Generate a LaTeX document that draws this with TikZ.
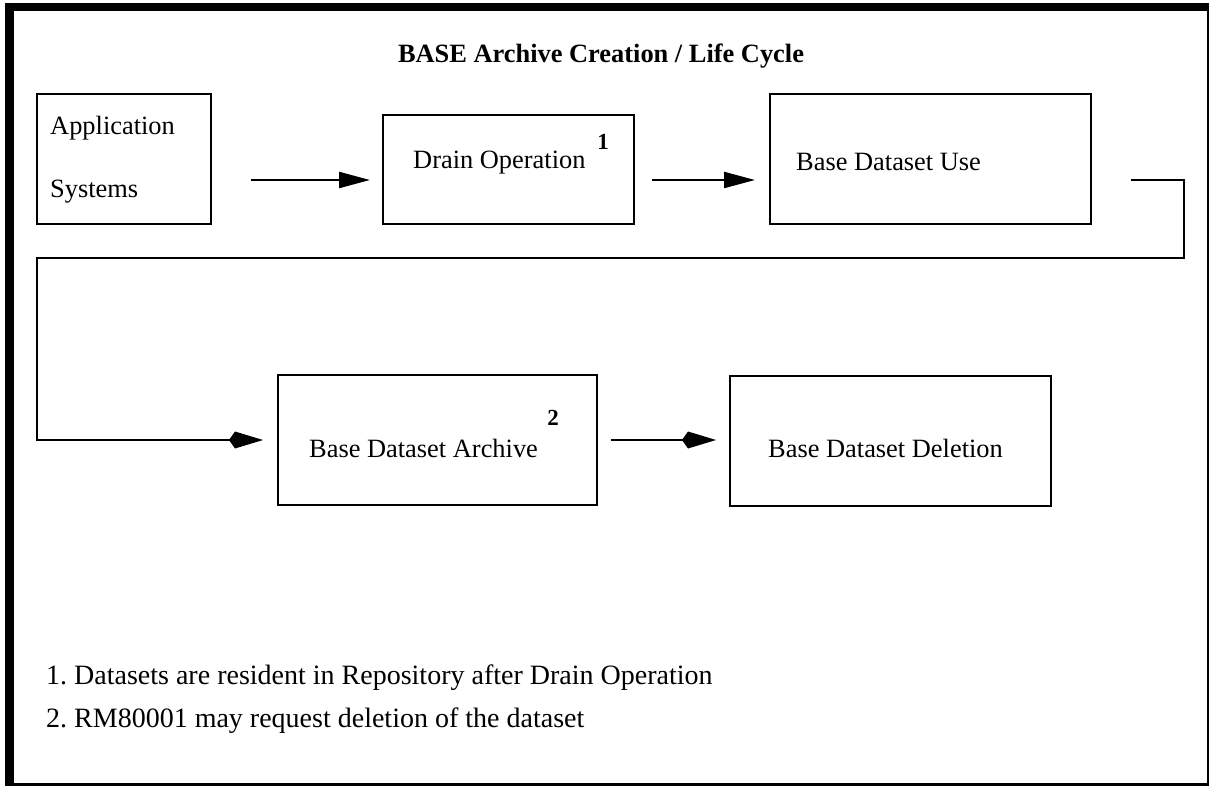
\documentclass[tikz,border=0pt]{standalone}
\usepackage{fontspec}
\setmainfont{Liberation Serif}
\usetikzlibrary{arrows.meta}
\tikzset{
  box/.style={draw, line width=2.2pt, inner sep=0pt, anchor=north west},
  lbl/.style={inner sep=0pt, anchor=base west, font=\fontsize{26.4}{30}\selectfont},
  note/.style={inner sep=0pt, anchor=base west, font=\fontsize{28}{32}\selectfont},
  num/.style={inner sep=0pt, anchor=base, font=\fontsize{23}{26}\selectfont\bfseries},
  conn/.style={line width=2.2pt},
  tri/.style={conn, -{Triangle[length=31pt,width=16pt]}},
  kite/.style={conn, -{Kite[length=34pt,width=17pt,inset=6pt]}},
}
\begin{document}
\begin{tikzpicture}[x=1pt,y=-1pt]
\useasboundingbox (0,0) rectangle (1209,786);
% frame
\fill (5,3) rectangle (14,786);
\fill (5,3) rectangle (1209,11);
\fill (1207,3) rectangle (1209,786);
\fill (5,783) rectangle (1209,786);
% title
\node[inner sep=0pt, anchor=base, font=\fontsize{26.4}{30}\selectfont\bfseries] (title) at (601,63) {BASE Archive Creation / Life Cycle};
% boxes
\node[box, minimum width=174pt, minimum height=130pt] (app) at (36,93) {};
\node[box, minimum width=251pt, minimum height=109pt] (drain) at (382,114) {};
\node[box, minimum width=321pt, minimum height=130pt] (use) at (769,93) {};
\node[box, minimum width=319pt, minimum height=130pt] (archive) at (277,374) {};
\node[box, minimum width=321pt, minimum height=130pt] (deletion) at (729,375) {};
% texts
\node[lbl] (t1) at (50,135) {Application};
\node[lbl] (t2) at (50,198) {Systems};
\node[lbl] (t3) at (413,169) {Drain Operation};
\node[num] (n1) at (603,150) {1};
\node[lbl] (t4) at (796,171) {Base Dataset Use};
\node[lbl] (t5) at (309,457) {Base Dataset Archive};
\node[num] (n2) at (553,425) {2};
\node[lbl] (t6) at (768,457) {Base Dataset Deletion};
\node[note] (f1) at (46,684) {1.\ Datasets are resident in Repository after Drain Operation};
\node[note] (f2) at (46,727) {2.\ RM80001 may request deletion of the dataset};
% connectors
\coordinate (r1) at (0,180);
\coordinate (r2) at (0,440);
\coordinate (c1) at (1184,180);
\coordinate (c2) at (1184,258);
\coordinate (c3) at (37,258);
\coordinate (c4) at (37,440);
\draw[tri, shorten <=39pt, shorten >=12pt] (app.east |- r1) -- (drain.west |- r1);
\draw[tri, shorten <=17pt, shorten >=14pt] (drain.east |- r1) -- (use.west |- r1);
\draw[kite, line join=miter, shorten <=39pt, shorten >=14pt] (use.east |- r1) -- (c1) -- (c2) -- (c3) -- (c4) -- (archive.west |- r2);
\draw[kite, shorten <=13pt, shorten >=13pt] (archive.east |- r2) -- (deletion.west |- r2);
\end{tikzpicture}
\end{document}
